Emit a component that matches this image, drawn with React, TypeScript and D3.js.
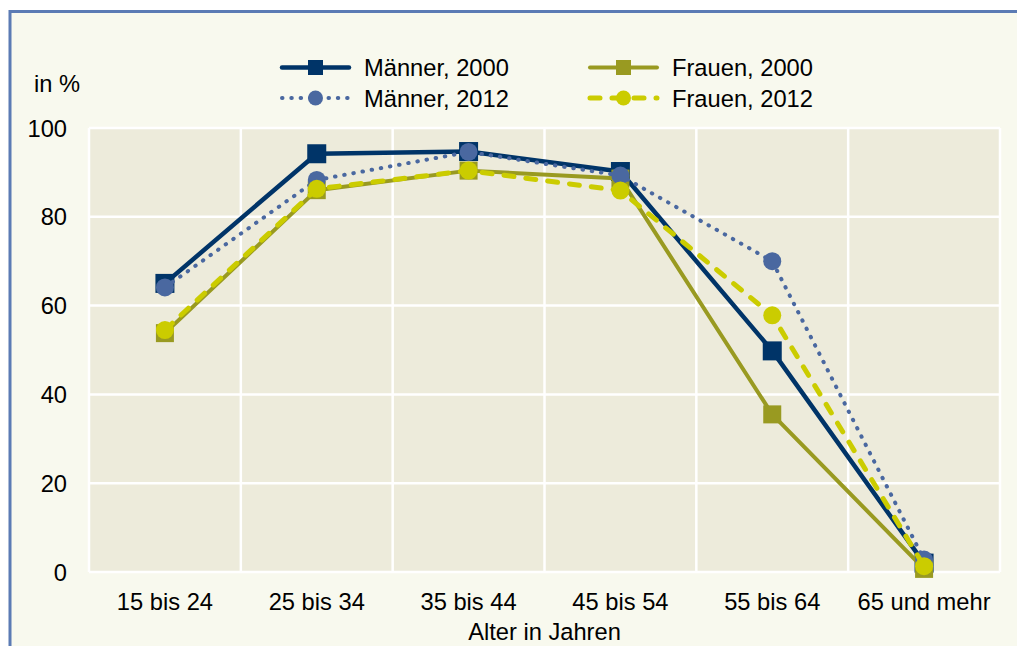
import React from "react";
import * as d3 from "d3";

const categories = ["15 bis 24", "25 bis 34", "35 bis 44", "45 bis 54", "55 bis 64", "65 und mehr"];
const maenner2000 = [65, 94.2, 94.7, 90.2, 49.8, 2];
const maenner2012 = [64.1, 88.3, 94.6, 89.3, 70, 2.8];
const frauen2000 = [53.8, 86, 90.4, 88.6, 35.5, 0.7];
const frauen2012 = [54.5, 86.3, 90.4, 85.9, 57.8, 1.3];
const yTicks = [0, 20, 40, 60, 80, 100];
const yAxisTitle = "in %";
const xAxisTitle = "Alter in Jahren";

type Series = {
  name: string;
  values: number[];
  color: string;
  width: number;
  dash?: string;
  marker: "square" | "circle";
  size: number;
};

const series: Series[] = [
  { name: "Männer, 2000", values: maenner2000, color: "#003468", width: 4.5, marker: "square", size: 19 },
  { name: "Frauen, 2000", values: frauen2000, color: "#999a21", width: 4, marker: "square", size: 18 },
  { name: "Männer, 2012", values: maenner2012, color: "#4a68a0", width: 4, dash: "0.5 8.8", marker: "circle", size: 18 },
  { name: "Frauen, 2012", values: frauen2012, color: "#cbcc00", width: 5, dash: "10 12", marker: "circle", size: 18 },
];

const legendOrder = [
  { s: 0, x: 280, y: 67.5 },
  { s: 1, x: 588, y: 67.5 },
  { s: 2, x: 280, y: 98 },
  { s: 3, x: 588, y: 98 },
];

const FONT = "'Liberation Sans', Arial, sans-serif";
const FS = 23.7;

function Marker({ s, cx, cy, size }: { s: Series; cx: number; cy: number; size: number }) {
  if (s.marker === "square") {
    return <rect x={cx - size / 2} y={cy - size / 2} width={size} height={size} fill={s.color} />;
  }
  return <circle cx={cx} cy={cy} r={size / 2} fill={s.color} />;
}

export default function App() {
  const W = 1017;
  const H = 646;
  const left = 89, right = 1000, top = 128, bottom = 572;
  const x = d3.scaleBand<string>().domain(categories).range([left, right]).padding(0);
  const y = d3.scaleLinear().domain([0, 100]).range([bottom, top]);
  const cx = (c: string) => (x(c) as number) + x.bandwidth() / 2;

  const line = (vals: number[]) =>
    d3
      .line<number>()
      .x((_, i) => cx(categories[i]))
      .y((v) => y(v))(vals) as string;

  return (
    <svg
      width={W}
      height={H}
      style={{ position: "fixed", left: 0, top: 0, display: "block" }}
      fontFamily={FONT}
    >
      <rect x={0} y={0} width={W} height={H} fill="#ffffff" />
      <rect x={10} y={11.5} width={W + 20} height={H + 20} fill="#f8f9ee" stroke="#5b7bb4" strokeWidth={3} />

      {/* plot area */}
      <rect x={left} y={top} width={right - left} height={bottom - top} fill="#edebdb" />
      {yTicks.map((t) => (
        <line key={"gy" + t} x1={left} x2={right} y1={y(t)} y2={y(t)} stroke="#ffffff" strokeWidth={2.5} />
      ))}
      {categories.map((c, i) => (
        <line key={"gx" + c} x1={x(c) as number} x2={x(c) as number} y1={top} y2={bottom} stroke="#ffffff" strokeWidth={2.5} />
      ))}
      <line x1={right} x2={right} y1={top} y2={bottom} stroke="#ffffff" strokeWidth={2.5} />

      {/* y tick labels */}
      {yTicks.map((t) => (
        <text key={"yl" + t} x={67} y={y(t) + 8.5} textAnchor="end" fontSize={FS} fill="#000">
          {t}
        </text>
      ))}
      <text x={34} y={92} fontSize={FS} fill="#000">{yAxisTitle}</text>

      {/* x tick labels */}
      {categories.map((c) => (
        <text key={"xl" + c} x={cx(c)} y={609.5} textAnchor="middle" fontSize={FS} fill="#000">
          {c}
        </text>
      ))}
      <text x={(left + right) / 2} y={640} textAnchor="middle" fontSize={FS} fill="#000">{xAxisTitle}</text>

      {/* series */}
      {series.map((s) => (
        <g key={s.name}>
          <path
            d={line(s.values)}
            fill="none"
            stroke={s.color}
            strokeWidth={s.width}
            strokeDasharray={s.dash}
            strokeLinecap={s.dash ? "round" : "butt"}
            strokeLinejoin="round"
          />
          {s.values.map((v, i) => (
            <Marker key={i} s={s} cx={cx(categories[i])} cy={y(v)} size={s.size} />
          ))}
        </g>
      ))}

      {/* legend */}
      {legendOrder.map(({ s, x: lx, y: ly }) => {
        const ser = series[s];
        return (
          <g key={"lg" + s}>
            <line
              x1={lx + 2}
              x2={lx + 69}
              y1={ly}
              y2={ly}
              stroke={ser.color}
              strokeWidth={ser.width}
              strokeDasharray={ser.dash}
              strokeLinecap="round"
            />
            <Marker s={ser} cx={lx + 35.5} cy={ly} size={ser.marker === "square" ? 15 : 15} />
            <text x={lx + 84} y={ly + 8.5} fontSize={FS} fill="#000">
              {ser.name}
            </text>
          </g>
        );
      })}
    </svg>
  );
}
